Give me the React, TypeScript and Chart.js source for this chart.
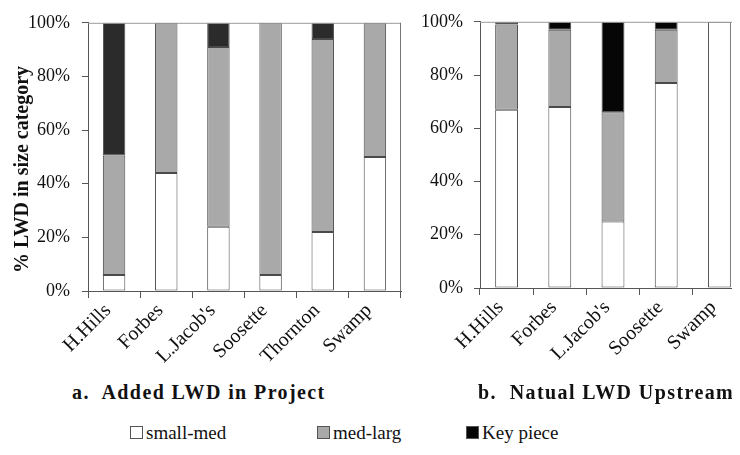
import React, { useEffect, useRef } from "react";
import { Chart, registerables } from "chart.js";

Chart.register(...registerables);

const leftCategories = ["H.Hills", "Forbes", "L.Jacob's", "Soosette", "Thornton", "Swamp"];
const leftSmallMed = [6, 44, 24, 6, 22, 50];
const leftMedLarg = [44.5, 56, 67, 94, 72, 50];
const leftKeyPiece = [49.5, 0, 9, 0, 6, 0];

const rightCategories = ["H.Hills", "Forbes", "L.Jacob's", "Soosette", "Swamp"];
const rightSmallMed = [67, 68, 25, 77, 100];
const rightMedLarg = [32, 29, 41, 20, 0];
const rightKeyPiece = [1, 3, 34, 3, 0];

const yTicks = [0, 20, 40, 60, 80, 100];
const seriesNames = ["small-med", "med-larg", "Key piece"];
const titleA = "a.  Added LWD in Project";
const titleB = "b.  Natual LWD Upstream";
const yTitle = "% LWD in size category";

const FONT = '"Liberation Serif", "Times New Roman", serif';
const WHITE = "#ffffff";
const GRAY = "#a9a9a9";
const KEY_LEFT = "#2b2b2b";
const KEY_RIGHT = "#060606";
const EDGE = "#4a4a4a";

const frameBox = {
  id: "frameBox",
  afterDraw(chart: any) {
    const { ctx, chartArea } = chart;
    ctx.save();
    ctx.lineWidth = 1;
    ctx.strokeStyle = "#9a9a9a";
    ctx.beginPath();
    ctx.moveTo(chartArea.left, chartArea.top + 0.5);
    ctx.lineTo(chartArea.right, chartArea.top + 0.5);
    ctx.stroke();
    ctx.strokeStyle = "#777";
    ctx.beginPath();
    ctx.moveTo(chartArea.right - 0.5, chartArea.top);
    ctx.lineTo(chartArea.right - 0.5, chartArea.bottom);
    ctx.stroke();
    ctx.restore();
  },
};

function makeConfig(
  labels: string[],
  sm: number[],
  ml: number[],
  kp: number[],
  keyColor: string,
  yWidth: number,
  xHeight: number,
  withTitle: boolean,
  labelPad: number
): any {
  const ds = (label: string, data: number[], color: string) => ({
    label,
    data,
    backgroundColor: color,
    borderColor: EDGE,
    borderWidth: 1,
    borderSkipped: false,
    barPercentage: 0.43,
    categoryPercentage: 1,
  });
  return {
    type: "bar",
    data: {
      labels,
      datasets: [
        ds(seriesNames[0], sm, WHITE),
        ds(seriesNames[1], ml, GRAY),
        ds(seriesNames[2], kp, keyColor),
      ],
    },
    options: {
      responsive: false,
      animation: false,
      layout: { padding: { top: 19, left: 0, right: 4, bottom: 0 } },
      plugins: { legend: { display: false }, tooltip: { enabled: false }, title: { display: false } },
      scales: {
        x: {
          stacked: true,
          afterFit(scale: any) {
            scale.height = xHeight;
          },
          grid: { drawOnChartArea: false, drawTicks: true, tickLength: 7, color: "#555", offset: true },
          border: { display: true, color: "#555", width: 1 },
          ticks: {
            autoSkip: false,
            maxRotation: 45,
            minRotation: 45,
            labelOffset: -6,
            padding: 1,
            color: "#111",
            font: { family: FONT, size: 20 },
          },
        },
        y: {
          stacked: true,
          min: 0,
          max: 100,
          afterFit(scale: any) {
            scale.width = yWidth;
          },
          afterBuildTicks(scale: any) {
            scale.ticks = yTicks.map((v) => ({ value: v }));
          },
          grid: { drawOnChartArea: false, drawTicks: true, tickLength: 6, color: "#555" },
          border: { display: true, color: "#555", width: 1 },
          ticks: {
            padding: labelPad,
            color: "#111",
            font: { family: FONT, size: 18 },
            callback: (v: any) => v + "%",
          },
          title: {
            display: withTitle,
            text: yTitle + "     ",
            color: "#111",
            font: { family: FONT, size: 20, weight: "bold" },
            padding: { top: 11, bottom: 0 },
          },
        },
      },
    },
    plugins: [frameBox],
  };
}

function ChartCanvas(props: { cfg: () => any; width: number; height: number; left: number }) {
  const ref = useRef<HTMLCanvasElement | null>(null);
  useEffect(() => {
    if (!ref.current) return;
    const chart = new Chart(ref.current, props.cfg());
    return () => chart.destroy();
  }, []);
  return (
    <canvas
      ref={ref}
      width={props.width}
      height={props.height}
      style={{ position: "absolute", left: props.left, top: 0, width: props.width, height: props.height }}
    />
  );
}

const legendColors = [WHITE, GRAY, KEY_RIGHT];
const legendLefts = [130, 317, 466];

export default function App() {
  return (
    <div
      style={{
        position: "relative",
        width: 740,
        height: 455,
        margin: -8,
        overflow: "hidden",
        background: "#fff",
        fontFamily: FONT,
        color: "#111",
      }}
    >
      <ChartCanvas
        left={0}
        width={405}
        height={380}
        cfg={() => makeConfig(leftCategories, leftSmallMed, leftMedLarg, leftKeyPiece, KEY_LEFT, 88, 89, true, 12)}
      />
      <ChartCanvas
        left={400}
        width={350}
        height={380}
        cfg={() => makeConfig(rightCategories, rightSmallMed, rightMedLarg, rightKeyPiece, KEY_RIGHT, 80, 92, false, 11)}
      />
      <div style={{ position: "absolute", left: 72, top: 381, fontSize: 20, fontWeight: "bold", letterSpacing: 1.4, whiteSpace: "pre", lineHeight: "22px" }}>
        {titleA}
      </div>
      <div style={{ position: "absolute", left: 478, top: 381, fontSize: 20, fontWeight: "bold", letterSpacing: 1.4, whiteSpace: "pre", lineHeight: "22px" }}>
        {titleB}
      </div>
      {seriesNames.map((name, i) => (
        <div
          key={name}
          style={{ position: "absolute", left: legendLefts[i], top: 422, fontSize: 19, lineHeight: "21px", whiteSpace: "pre", display: "flex", alignItems: "center" }}
        >
          <span
            style={{ display: "inline-block", width: 11, height: 11, background: legendColors[i], border: "1px solid #555", marginRight: 3 }}
          />
          <span>{name}</span>
        </div>
      ))}
    </div>
  );
}
